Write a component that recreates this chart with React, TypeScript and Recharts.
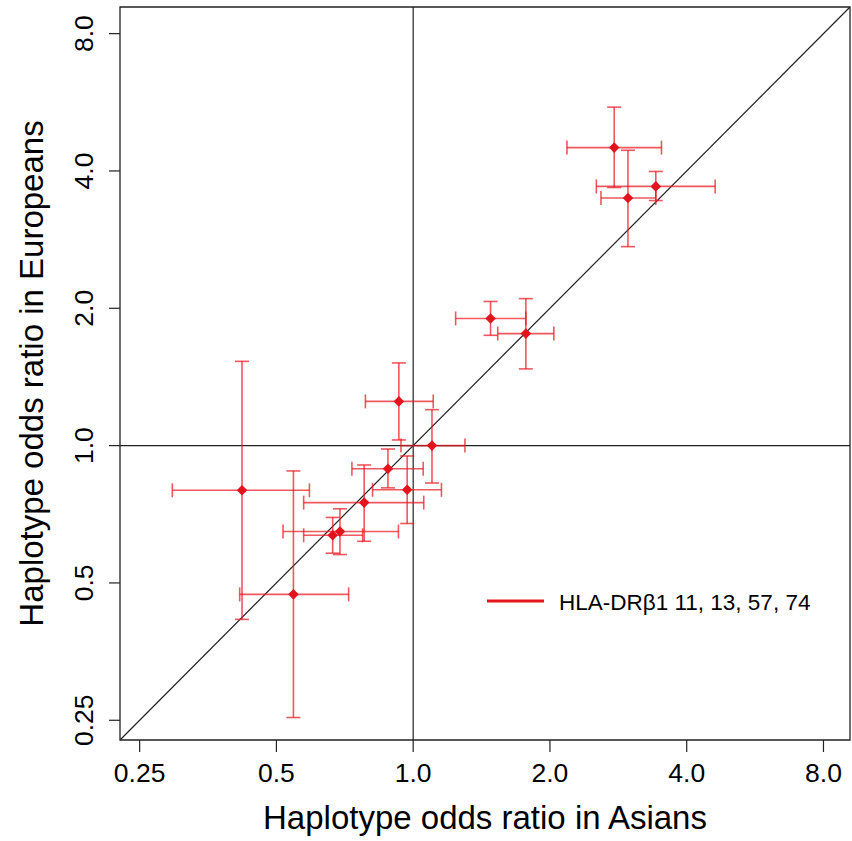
import React from 'react';
import {
  ScatterChart,
  Scatter,
  XAxis,
  YAxis,
  ErrorBar,
  ReferenceLine,
  ReferenceArea,
  Customized,
} from 'recharts';

// Haplotype odds ratios (Asians on x, Europeans on y) with 95% CI
const asianOR = [2.77, 2.97, 3.42, 1.48, 1.77, 0.93, 1.1, 0.88, 0.97, 0.78, 0.69, 0.665, 0.42, 0.545];
const asianLow = [2.18, 2.59, 2.53, 1.24, 1.535, 0.785, 0.94, 0.733, 0.814, 0.574, 0.517, 0.574, 0.295, 0.415];
const asianHigh = [3.52, 3.42, 4.62, 1.77, 2.04, 1.107, 1.3, 1.052, 1.154, 1.055, 0.928, 0.774, 0.591, 0.721];
const euroOR = [4.5, 3.49, 3.7, 1.9, 1.76, 1.25, 1.0, 0.89, 0.8, 0.75, 0.648, 0.636, 0.798, 0.472];
const euroLow = [3.68, 2.73, 3.445, 1.745, 1.473, 1.029, 0.828, 0.808, 0.675, 0.617, 0.577, 0.581, 0.416, 0.2535];
const euroHigh = [5.52, 4.44, 3.99, 2.07, 2.1, 1.518, 1.199, 0.983, 0.949, 0.907, 0.727, 0.696, 1.53, 0.88];

const tickValues = [0.25, 0.5, 1, 2, 4, 8];
const seriesName = 'HLA-DRβ1 11, 13, 57, 74';
const xTitle = 'Haplotype odds ratio in Asians';
const yTitle = 'Haplotype odds ratio in Europeans';

const LO = 0.2263;
const HI = 9.151;

const FONT = '"Liberation Sans", Arial, Helvetica, sans-serif';
const RED = '#e3141c';
const BAR_RED = 'rgba(232, 24, 32, 0.72)';

const data = asianOR.map((x, i) => ({
  x,
  y: euroOR[i],
  ex: [x - asianLow[i], asianHigh[i] - x],
  ey: [euroOR[i] - euroLow[i], euroHigh[i] - euroOR[i]],
}));

const fmt = (v: number) => (v >= 1 ? v.toFixed(1) : String(v));

const Diamond = (props: any) => {
  const { cx, cy } = props;
  const r = 5.3;
  return (
    <path
      d={`M${cx},${cy - r}L${cx + r},${cy}L${cx},${cy + r}L${cx - r},${cy}Z`}
      fill={RED}
    />
  );
};

const YTick = (props: any) => {
  const { x, y, payload } = props;
  return (
    <text
      x={x}
      y={y}
      transform={`rotate(-90, ${x}, ${y})`}
      textAnchor="middle"
      fontSize={26.5}
      fontFamily={FONT}
      fill="#000"
    >
      {fmt(payload.value)}
    </text>
  );
};

const Decorations = () => (
  <g>
    <text
      x={485}
      y={829}
      textAnchor="middle"
      fontSize={33}
      fontFamily={FONT}
      fill="#000"
    >
      {xTitle}
    </text>
    <text
      x={43}
      y={373.5}
      transform="rotate(-90, 43, 373.5)"
      textAnchor="middle"
      fontSize={33}
      fontFamily={FONT}
      fill="#000"
    >
      {yTitle}
    </text>
    <line x1={487} y1={601} x2={544} y2={601} stroke={RED} strokeWidth={3} />
    <text x={559} y={610} fontSize={22.5} fontFamily={FONT} fill="#000">
      {seriesName}
    </text>
  </g>
);

export default function App() {
  return (
    <div style={{ position: 'absolute', left: 0, top: 0, background: '#fff' }}>
      <ScatterChart
        width={852}
        height={841}
        margin={{ top: 7, right: 2, bottom: 0, left: 0 }}
      >
        <XAxis
          type="number"
          dataKey="x"
          scale="log"
          domain={[LO, HI]}
          allowDataOverflow
          ticks={tickValues}
          interval={0}
          tickFormatter={fmt}
          tickSize={12}
          tickMargin={11}
          height={101}
          axisLine={false}
          tickLine={{ stroke: '#222', strokeWidth: 1.2 }}
          tick={{ fontSize: 26.5, fill: '#000', fontFamily: FONT }}
        />
        <YAxis
          type="number"
          dataKey="y"
          scale="log"
          domain={[LO, HI]}
          allowDataOverflow
          ticks={tickValues}
          interval={0}
          tickSize={11}
          tickMargin={16}
          width={120}
          axisLine={false}
          tickLine={{ stroke: '#222', strokeWidth: 1.2 }}
          tick={<YTick />}
        />
        <ReferenceArea
          x1={LO}
          x2={HI}
          y1={LO}
          y2={HI}
          fill="none"
          fillOpacity={0}
          stroke="#222"
          strokeWidth={1.3}
          ifOverflow="visible"
        />
        <ReferenceLine x={1} stroke="#222" strokeWidth={1.2} />
        <ReferenceLine y={1} stroke="#222" strokeWidth={1.2} />
        <ReferenceLine
          segment={[
            { x: LO, y: LO },
            { x: HI, y: HI },
          ]}
          stroke="#222"
          strokeWidth={1.2}
          ifOverflow="visible"
        />
        <Scatter data={data} shape={<Diamond />} isAnimationActive={false}>
          <ErrorBar
            dataKey="ex"
            direction="x"
            width={7}
            stroke={BAR_RED}
            strokeWidth={1.6}
            isAnimationActive={false}
          />
          <ErrorBar
            dataKey="ey"
            direction="y"
            width={7}
            stroke={BAR_RED}
            strokeWidth={1.6}
            isAnimationActive={false}
          />
        </Scatter>
        <Customized component={Decorations} />
      </ScatterChart>
    </div>
  );
}
